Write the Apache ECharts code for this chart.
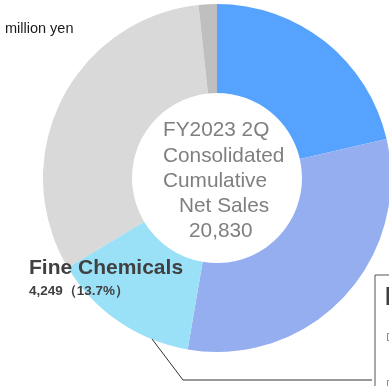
<!DOCTYPE html>
<html>
<head>
<meta charset="utf-8">
<script src="https://cdn.jsdelivr.net/npm/echarts@6/dist/echarts.min.js"></script>
<style>
html,body{margin:0;padding:0;background:#fff;}
#c{width:389px;height:386px;}
</style>
</head>
<body>
<div id="c"></div>
<script>
// Segment shares (%), clockwise from 12 o'clock
var segmentNames = ['Segment A', 'Segment B', 'Fine Chemicals', 'Segment C', 'Other'];
var segmentShares = [21.4, 31.3, 13.7, 31.9, 1.7];
var segmentColors = ['#55A3FF', '#95AEF0', '#9AE1F8', '#D9D9D9', '#BFBFBF'];
var centerLines = ['FY2023 2Q', 'Consolidated', 'Cumulative', 'Net Sales', '20,830'];
var unitLabel = 'million yen';
var fineLabel = 'Fine Chemicals';
var fineValue = '4,249（13.7%）';

var chart = echarts.init(document.getElementById('c'), null, {renderer: 'canvas'});

var data = segmentNames.map(function (n, i) {
  return {name: n, value: segmentShares[i], itemStyle: {color: segmentColors[i]}};
});

var centerX = [163, 163, 163, 179, 189];
var centerY = [131, 157, 182, 207, 232];
var graphics = centerLines.map(function (t, i) {
  return {
    type: 'text', left: centerX[i], top: centerY[i] - 11, z: 10,
    style: {text: t, fill: '#7F7F7F', font: '20.8px "Liberation Sans", Arial, sans-serif'}
  };
});
graphics.push({
  type: 'text', left: 5, top: 21, z: 10,
  style: {text: unitLabel, fill: '#1a1a1a', font: '14.5px "Liberation Sans", Arial, sans-serif'}
});
graphics.push({
  type: 'text', left: 29, top: 258, z: 10,
  style: {text: fineLabel, fill: '#404040', font: 'bold 21px "Liberation Sans", Arial, sans-serif'}
});
graphics.push({
  type: 'text', left: 29, top: 284, z: 10,
  style: {text: fineValue, fill: '#404040', font: 'bold 13.5px "Liberation Sans", Arial, sans-serif'}
});
// leader line (from a label outside the crop)
graphics.push({
  type: 'polyline', z: 10,
  shape: {points: [[152, 339], [183, 380], [372, 380]]},
  style: {stroke: '#333', lineWidth: 1, fill: null}
});
// partially visible box at the right edge
graphics.push({
  type: 'polyline', z: 10,
  shape: {points: [[375, 390], [375, 275], [392, 275]]},
  style: {stroke: '#555', lineWidth: 1, fill: null}
});
graphics.push({
  type: 'rect', z: 10,
  shape: {x: 386.5, y: 287, width: 5, height: 18},
  style: {fill: '#404040'}
});
graphics.push({
  type: 'rect', z: 10,
  shape: {x: 387.5, y: 333.5, width: 5, height: 7},
  style: {fill: '#fff', stroke: '#888', lineWidth: 1}
});
graphics.push({
  type: 'rect', z: 10,
  shape: {x: 387.5, y: 380.5, width: 5, height: 7},
  style: {fill: '#fff', stroke: '#888', lineWidth: 1}
});

chart.setOption({
  animation: false,
  backgroundColor: '#fff',
  series: [{
    type: 'pie',
    center: [217, 178],
    radius: [85, 174],
    startAngle: 90,
    clockwise: true,
    label: {show: false},
    labelLine: {show: false},
    emphasis: {disabled: true},
    itemStyle: {borderWidth: 0},
    data: data
  }],
  graphic: graphics
});
</script>
</body>
</html>
